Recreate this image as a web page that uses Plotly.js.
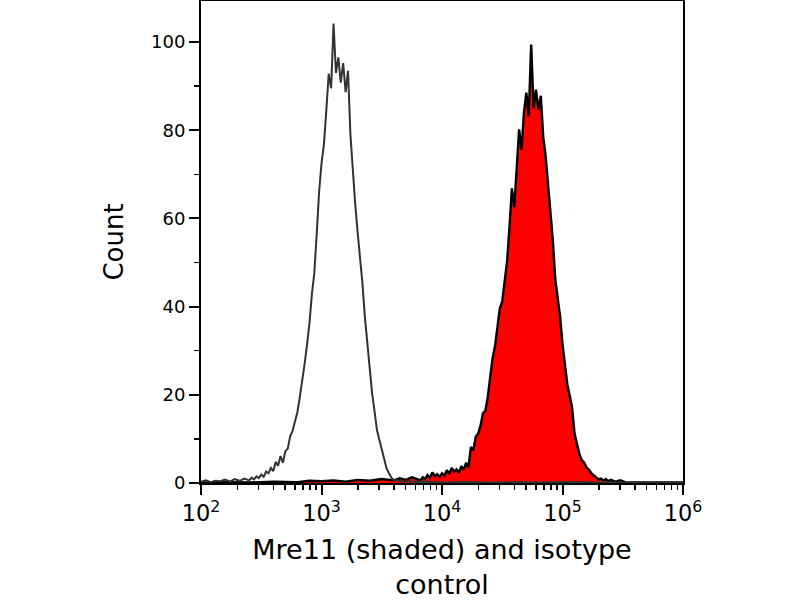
<!DOCTYPE html>
<html>
<head>
<meta charset="utf-8">
<script src="https://cdn.plot.ly/plotly-3.0.1.min.js"></script>
<style>
  html, body { margin: 0; padding: 0; background: #fff; }
  #plot { width: 800px; height: 600px; }
</style>
</head>
<body>
<div id="plot"></div>
<script>
// log10 of fluorescence intensity
const isoLog = [
  2.00, 2.04, 2.08, 2.12, 2.16, 2.20, 2.24, 2.28, 2.32, 2.36,
  2.40, 2.42, 2.44, 2.46, 2.48, 2.50, 2.52, 2.54, 2.56, 2.58,
  2.60, 2.62, 2.64, 2.66, 2.68, 2.70, 2.72, 2.74, 2.76, 2.78,
  2.80, 2.82, 2.84, 2.86, 2.88, 2.90, 2.92, 2.94, 2.96, 2.98,
  3.00, 3.02, 3.04, 3.06, 3.08, 3.10, 3.12, 3.14, 3.16, 3.18,
  3.20, 3.22, 3.24, 3.26, 3.28, 3.30, 3.32, 3.34, 3.36, 3.38,
  3.40, 3.42, 3.44, 3.46, 3.48, 3.50, 3.52, 3.54, 3.56, 3.58,
  3.60, 3.64, 3.68, 3.72, 3.80, 3.90, 4.00, 4.20, 4.40, 4.60,
  4.80, 5.00, 5.20, 5.40, 5.60, 5.80, 6.00
];
const isoCount = [
  0.3, 0.6, 0.2, 0.5, 0.4, 0.8, 0.3, 0.9, 0.5, 1.0,
  0.6, 1.2, 0.8, 1.5, 1.1, 1.9, 1.4, 2.6, 2.2, 3.4,
  2.7, 4.8, 3.9, 6.1, 4.6, 7.2, 7.8, 10.6, 11.8, 14.2,
  16.1, 19.5, 22.8, 27.0, 31.4, 36.2, 42.8, 47.5, 56.3, 66.0,
  72.4, 76.8, 84.5, 92.8, 89.5, 104.2, 93.0, 96.5, 90.8, 95.2,
  88.6, 93.5, 79.0, 70.5, 63.2, 56.8, 51.5, 45.2, 37.6, 31.2,
  26.5, 20.4, 16.3, 12.0, 9.8, 7.6, 5.2, 3.3, 2.2, 1.2,
  0.7, 0.5, 0.3, 0.4, 0.2, 0.3, 0.1, 0.2, 0.1, 0.2,
  0.1, 0.2, 0.1, 0.1, 0.1, 0.1, 0.1
];

const mreLog = [
  2.00, 2.20, 2.40, 2.60, 2.80, 2.90, 3.00, 3.10, 3.20, 3.30,
  3.40, 3.50, 3.60, 3.65, 3.70, 3.75,
  3.80, 3.82, 3.84, 3.86, 3.88, 3.90, 3.92, 3.94, 3.96, 3.98,
  4.00, 4.02, 4.04, 4.06, 4.08, 4.10, 4.12, 4.14, 4.16, 4.18,
  4.20, 4.22, 4.24, 4.26, 4.28, 4.30, 4.32, 4.34, 4.36, 4.38,
  4.40, 4.42, 4.44, 4.46, 4.48, 4.50, 4.52, 4.54, 4.56, 4.58,
  4.60, 4.62, 4.64, 4.66, 4.68, 4.70, 4.72, 4.74, 4.76, 4.78,
  4.80, 4.82, 4.84, 4.86, 4.88, 4.90, 4.92, 4.94, 4.96, 4.98,
  5.00, 5.02, 5.04, 5.06, 5.08, 5.10, 5.12, 5.14, 5.16, 5.18,
  5.20, 5.22, 5.24, 5.26, 5.28, 5.30, 5.32, 5.34, 5.36, 5.38,
  5.40, 5.44, 5.48, 5.52, 5.60, 5.80, 6.00
];
const mreCount = [
  0.1, 0.2, 0.1, 0.3, 0.2, 0.5, 0.4, 0.6, 0.3, 0.7,
  0.5, 0.9, 0.6, 1.1, 0.7, 1.3,
  0.8, 0.5, 1.3, 0.9, 1.8, 1.2, 2.4, 1.6, 2.0, 1.4,
  2.2, 1.7, 2.9, 2.1, 3.4, 2.6, 3.1, 2.3, 3.8, 3.0,
  4.6, 3.5, 8.2, 7.4, 10.5, 11.2, 13.0, 15.8, 16.4, 19.5,
  24.0, 28.3, 31.0, 35.4, 39.6, 41.2, 45.5, 50.2, 58.0, 66.8,
  62.5, 71.4, 80.2, 75.6, 84.0, 88.5, 83.2, 99.4, 85.0, 89.2,
  84.6, 87.8, 78.5, 74.2, 68.0, 62.4, 55.0, 46.2, 41.5, 37.8,
  31.5, 26.8, 22.4, 19.8, 17.0, 11.2, 8.5, 6.6, 5.2, 4.6,
  3.5, 3.0, 2.2, 1.8, 1.2, 0.8, 1.0, 0.5, 0.9, 0.4,
  0.7, 0.3, 0.6, 0.2, 0.1, 0.1, 0.1
];

const xTitle = 'Mre11 (shaded) and isotype<br>control';
const yTitle = 'Count';

const FONT = 'DejaVu Sans, Verdana, sans-serif';

const traces = [
  {
    x: mreLog.map(v => Math.pow(10, v)),
    y: mreCount,
    mode: 'lines',
    fill: 'tozeroy',
    fillcolor: '#ff0000',
    line: { color: '#000000', width: 2.4 },
    hoverinfo: 'skip'
  },
  {
    x: isoLog.map(v => Math.pow(10, v)),
    y: isoCount,
    mode: 'lines',
    line: { color: '#333333', width: 2 },
    hoverinfo: 'skip'
  }
];

const layout = {
  width: 800, height: 600,
  margin: { l: 201, r: 117, t: 1, b: 117 },
  paper_bgcolor: '#ffffff',
  plot_bgcolor: '#ffffff',
  showlegend: false,
  font: { family: FONT, color: '#000', size: 18 },
  xaxis: {
    type: 'log',
    range: [2, 6],
    dtick: 1,
    exponentformat: 'power',
    showgrid: false, zeroline: false,
    showline: true, linecolor: '#000', linewidth: 2, mirror: true,
    ticks: 'outside', ticklen: 10, tickwidth: 2, tickcolor: '#000',
    minor: { ticks: 'outside', ticklen: 5, tickwidth: 1.5, tickcolor: '#000', dtick: 'D1', showgrid: false },
    tickfont: { size: 18, family: FONT },
    title: { text: xTitle, font: { size: 27, family: FONT }, standoff: 18 }
  },
  yaxis: {
    range: [0, 109.3],
    dtick: 20,
    showgrid: false, zeroline: false,
    showline: true, linecolor: '#000', linewidth: 2, mirror: true,
    ticks: 'outside', ticklen: 10, tickwidth: 2, tickcolor: '#000',
    minor: { ticks: 'outside', ticklen: 5, tickwidth: 1.5, tickcolor: '#000', dtick: 10, showgrid: false },
    tickfont: { size: 18, family: FONT },
    title: { text: yTitle, font: { size: 26, family: FONT }, standoff: 20 }
  }
};

Plotly.newPlot('plot', traces, layout, { displayModeBar: false, staticPlot: true });
</script>
</body>
</html>
